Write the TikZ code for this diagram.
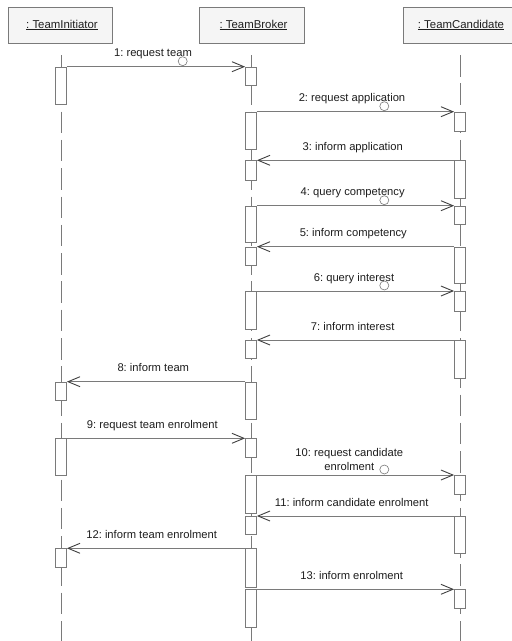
\documentclass[tikz,border=0pt]{standalone}
\usepackage{fontspec}
\setmainfont{Liberation Sans}
\usetikzlibrary{arrows.meta}
\frenchspacing
\definecolor{linegray}{HTML}{7A7A7A}
\definecolor{headfill}{HTML}{F5F5F5}
\definecolor{txt}{HTML}{1E1E1E}
\definecolor{tipgray}{HTML}{404040}
\newcommand{\actbar}[4]{\node[actbox, minimum height={#4-#3}] (#1) at (#2,#3) {};}
\begin{document}
\begin{tikzpicture}[x=1pt,y=-1pt,
  headbox/.style={draw=linegray, fill=headfill, line width=0.8pt, minimum height=36pt, inner sep=0pt, font=\fontsize{11.4}{14}\selectfont, text=txt},
  actbox/.style={draw=linegray, fill=white, line width=0.8pt, minimum width=11pt, inner sep=0pt, anchor=north},
  lifeline/.style={draw=linegray, line width=0.8pt, dash pattern=on 21.5pt off 6.8pt},
  msg/.style={draw=linegray, line width=0.8pt, -{Straight Barb[length=12pt,width=10pt,line width=0.9pt,color=tipgray]}},
  lbl/.style={font=\fontsize{11.2}{14}\selectfont\frenchspacing, text=txt, inner sep=0pt, anchor=base},
  ball/.style={circle, draw=linegray, line width=0.6pt, minimum size=9pt, inner sep=0pt}
]
\useasboundingbox (0,0) rectangle (512,641);
\fill[white] (0,0) rectangle (512,641);

% heads
\node[headbox, minimum width=104pt] (ini) at (60,25) {\hspace{4pt}\underline{: TeamInitiator}};
\node[headbox, minimum width=105pt] (bro) at (251.5,25) {\hspace{4pt}\underline{: TeamBroker}};
\node[headbox, minimum width=114pt] (can) at (460,25) {\hspace{2pt}\underline{: TeamCandidate}};

% lifelines
\coordinate (iTop) at (61,55);  \coordinate (iBot) at (61,645);
\coordinate (bTop) at (251,55); \coordinate (bBot) at (251,645);
\coordinate (cTop) at (460,55); \coordinate (cBot) at (460,645);
\draw[lifeline] (iTop) -- (iBot);
\draw[lifeline] (bTop) -- (bBot);
\draw[lifeline] (cTop) -- (cBot);

% activations: initiator
\actbar{i1}{61}{66.7}{104}
\actbar{i2}{61}{381.7}{400}
\actbar{i3}{61}{438.3}{475}
\actbar{i4}{61}{548.3}{567.3}
% broker
\actbar{b1}{251}{66.7}{85}
\actbar{b2}{251}{111.7}{149.3}
\actbar{b3}{251}{160.3}{180}
\actbar{b4}{251}{205.7}{242.3}
\actbar{b5}{251}{246.7}{265}
\actbar{b6}{251}{291}{329.3}
\actbar{b7}{251}{340}{358.3}
\actbar{b8}{251}{381.7}{419}
\actbar{b9}{251}{438.3}{457.3}
\actbar{b10}{251}{475}{512.7}
\actbar{b11}{251}{516}{534}
\actbar{b12}{251}{548.3}{586.7}
\actbar{b13}{251}{589.3}{627.3}
% candidate
\actbar{c1}{460}{111.7}{130.7}
\actbar{c2}{460}{160.3}{198.3}
\actbar{c3}{460}{205.7}{224}
\actbar{c4}{460}{246.7}{283.3}
\actbar{c5}{460}{291}{310.7}
\actbar{c6}{460}{340}{377.7}
\actbar{c7}{460}{475}{494.3}
\actbar{c8}{460}{516}{553.3}
\actbar{c9}{460}{589.3}{608.3}

% messages
\draw[msg] (i1.north east) -- (b1.north west);
\node[lbl] (l1) at (153,56.7) {1: request team};
\node[ball] (o1) at (182.7,61.2) {};

\draw[msg] (b2.north east) -- (c1.north west);
\node[lbl] (l2) at (352,101.2) {2: request application};
\node[ball] (o2) at (384.3,106.2) {};

\draw[msg] (c2.north west) -- (b3.north east);
\node[lbl] (l3) at (352.7,150.3) {3: inform application};

\draw[msg] (b4.north east) -- (c3.north west);
\node[lbl] (l4) at (352.7,195.7) {4: query competency};
\node[ball] (o4) at (384.3,200.2) {};

\draw[msg] (c4.north west) -- (b5.north east);
\node[lbl] (l5) at (353.3,236.7) {5: inform competency};

\draw[msg] (b6.north east) -- (c5.north west);
\node[lbl] (l6) at (354,281) {6: query interest};
\node[ball] (o6) at (384.3,285.5) {};

\draw[msg] (c6.north west) -- (b7.north east);
\node[lbl] (l7) at (352.7,330) {7: inform interest};

\draw[msg] (b8.north west) -- (i2.north east);
\node[lbl] (l8) at (153.3,371.7) {8: inform team};

\draw[msg] (i3.north east) -- (b9.north west);
\node[lbl] (l9) at (152.3,428.3) {9: request team enrolment};

\draw[msg] (b10.north east) -- (c7.north west);
\node[lbl, align=center] (l10) at (349.3,470.5) {10: request candidate\\enrolment};
\node[ball] (o10) at (384.3,469.5) {};

\draw[msg] (c8.north west) -- (b11.north east);
\node[lbl] (l11) at (351.7,506) {11: inform candidate enrolment};

\draw[msg] (b12.north west) -- (i4.north east);
\node[lbl] (l12) at (151.7,538.3) {12: inform team enrolment};

\draw[msg] (b13.north east) -- (c9.north west);
\node[lbl] (l13) at (351.7,579.3) {13: inform enrolment};
\end{tikzpicture}
\end{document}
